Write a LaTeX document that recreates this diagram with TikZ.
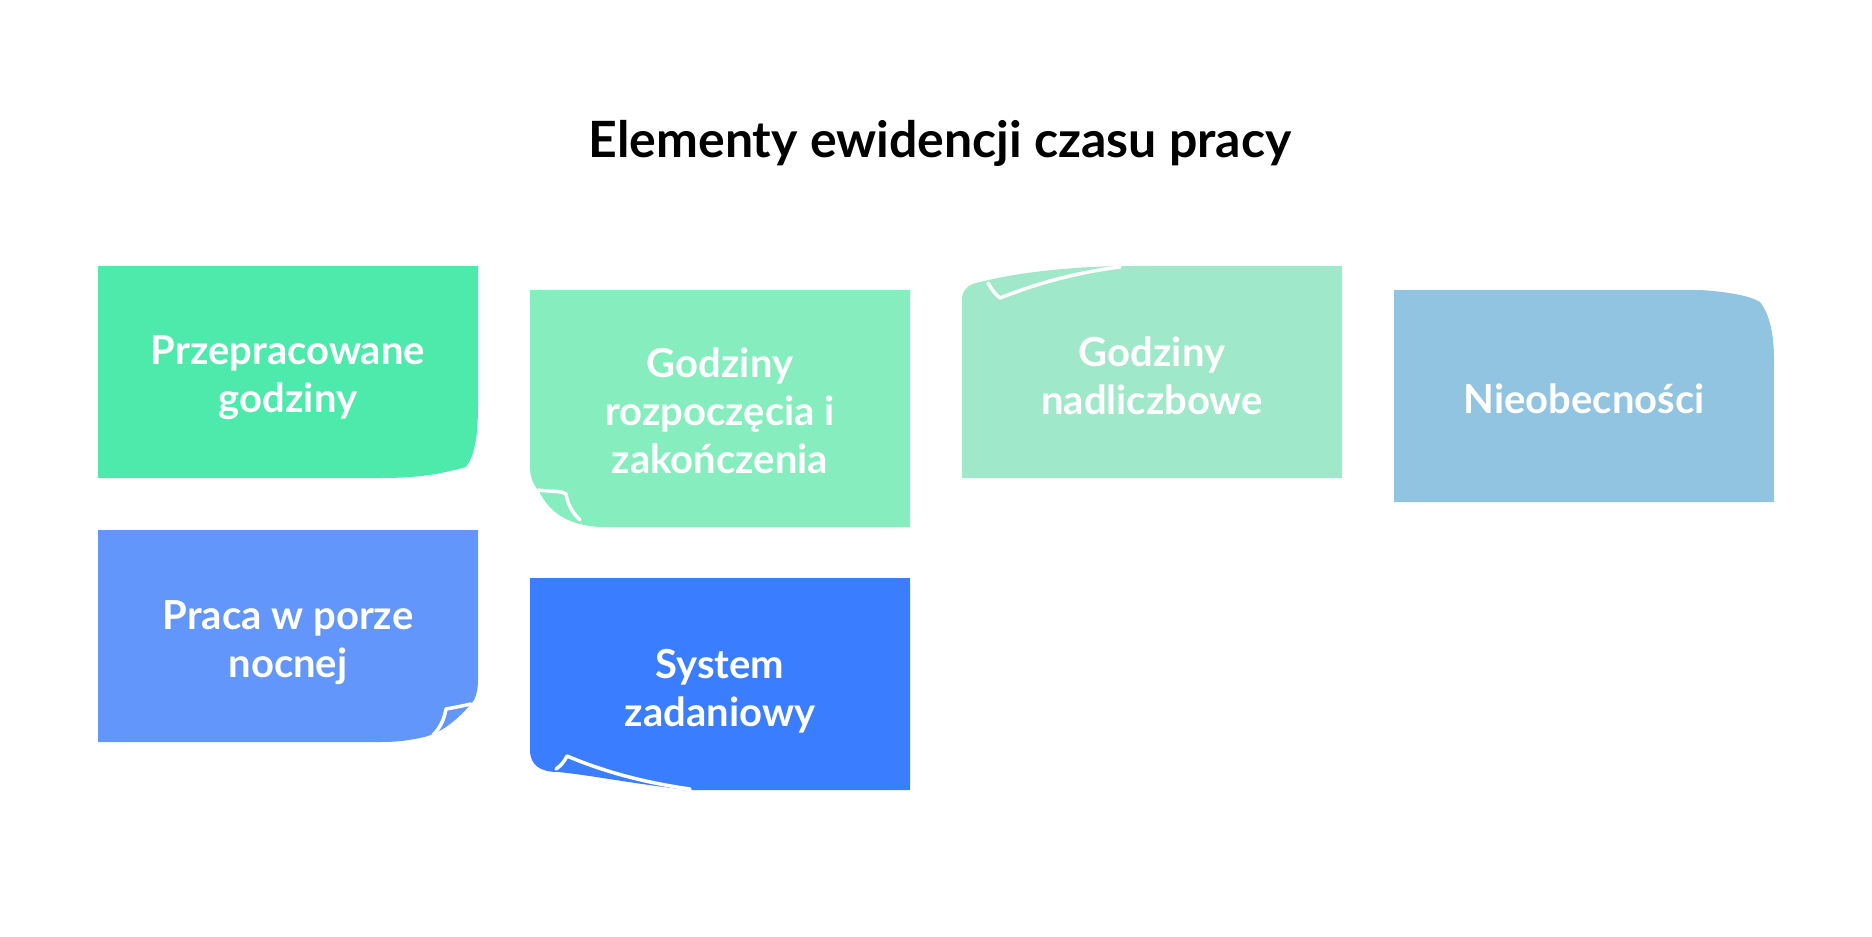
\documentclass[tikz,border=0pt]{standalone}
\usepackage{fontspec}
\setmainfont{Lato}
\definecolor{worked}{HTML}{4DEAAB}
\definecolor{startend}{HTML}{85EDBE}
\definecolor{overtime}{HTML}{A0E8CA}
\definecolor{absence}{HTML}{91C4E0}
\definecolor{night}{HTML}{6396FA}
\definecolor{task}{HTML}{3B7DFF}
\begin{document}
\begin{tikzpicture}[x=1pt,y=-1pt,
    boxtext/.style={text=white, font=\bfseries\fontsize{40}{48}\selectfont, align=center},
    fold/.style={white, line width=3.5pt, line join=round, line cap=round}]
	\useasboundingbox[fill=white] (0,0) rectangle (1872,937);
	\node[font=\bfseries\fontsize{50}{58}\selectfont, anchor=base] (title) at (940,157) {Elementy ewidencji czasu pracy};

	% first row
	\fill[worked] (98,266) -- (478,266) -- (478,405) .. controls (478,440) and (474,456) .. (466,467) .. controls (440,474) and (420,478) .. (380,478) -- (98,478) -- cycle;
	\node[boxtext] (workedtext) at (288,378) {Przepracowane\\godziny};

	\fill[startend] (530,290) -- (910,290) -- (910,527) -- (600,527) .. controls (565,525) and (548,510) .. (539,491) .. controls (532,483) and (530,476) .. (530,465) -- cycle;
	\draw[fold] (539,490) .. controls (550,492) and (560,490) .. (566,494) .. controls (568,505) and (572,512) .. (580,520);
	\node[boxtext] (startendtext) at (720,411) {Godziny\\rozpoczęcia i\\zakończenia};

	\fill[overtime] (962,478) -- (962,300) .. controls (962,290) and (968,284) .. (980,282) .. controls (1020,272) and (1070,267) .. (1120,266) -- (1342,266) -- (1342,478) -- cycle;
	\draw[fold] (988,283) .. controls (992,290) and (996,295) .. (1000,298) .. controls (1040,282) and (1080,272) .. (1120,267);
	\node[boxtext] (overtimetext) at (1152,376) {Godziny\\nadliczbowe};

	\fill[absence] (1394,290) -- (1700,290) .. controls (1730,292) and (1750,296) .. (1760,302) .. controls (1770,315) and (1774,335) .. (1774,360) -- (1774,502) -- (1394,502) -- cycle;
	\node[boxtext] (absencetext) at (1584,399) {Nieobecności};

	% second row
	\fill[night] (98,530) -- (478,530) -- (478,680) .. controls (478,692) and (475,700) .. (471,704) .. controls (455,722) and (440,734) .. (420,738) .. controls (405,741) and (395,742) .. (380,742) -- (98,742) -- cycle;
	\draw[fold] (471,704) .. controls (462,706) and (452,708) .. (446,709) .. controls (444,720) and (440,728) .. (433,735);
	\node[boxtext] (nighttext) at (288,643) {Praca w porze\\nocnej};

	\fill[task] (530,578) -- (910,578) -- (910,790) -- (690,790) .. controls (640,785) and (590,775) .. (558,772) .. controls (540,772) and (530,765) .. (530,750) -- cycle;
	\draw[fold] (556,769) .. controls (562,765) and (565,760) .. (567,756) .. controls (600,770) and (640,782) .. (690,789);
	\node[boxtext] (tasktext) at (720,691) {System\\zadaniowy};
\end{tikzpicture}
\end{document}
